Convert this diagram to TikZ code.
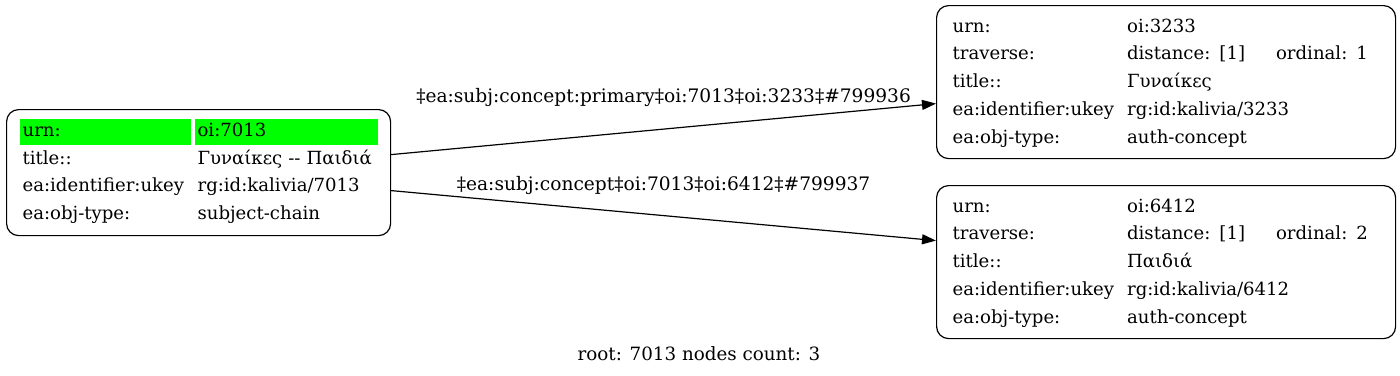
\documentclass[tikz,border=0pt]{standalone}
\usepackage{fontspec}
\setmainfont{DejaVu Serif}
\usepackage{xcolor}
\usetikzlibrary{arrows.meta}
\definecolor{rootgreen}{RGB}{0,255,0}
\setlength{\fboxsep}{0pt}
\newcommand{\rootcell}[2]{\hspace*{-3pt}\colorbox{rootgreen}{\makebox[#1][l]{\hspace*{3pt}\rule[-8pt]{0pt}{26pt}#2}}}

\begin{document}
\begin{tikzpicture}[x=1pt, y=-1pt,
  recbox/.style={draw, rounded corners=12pt, line width=1.2pt, inner xsep=16pt, inner ysep=0pt,
    anchor=north west, align=left, font=\fontsize{18.1}{27.7}\selectfont},
  link/.style={-{Triangle[length=14pt,width=10pt]}, line width=1.2pt},
  tag/.style={font=\fontsize{18.6}{22}\selectfont}
]
\useasboundingbox (0,0) rectangle (1400,375);

\node[recbox, text width=352pt, minimum height=126pt] (n7013) at (6,109) {\noindent
  \begin{tabular}{@{}p{175pt}@{}l@{}}
  \rootcell{171pt}{urn:} & \rootcell{183pt}{oi:7013}\\
  title:: & Γυναίκες -\kern0pt- Παιδιά\\
  ea:identifier:ukey & rg:id:kalivia/7013\\
  ea:obj-type: & subject-chain
  \end{tabular}};

\node[recbox, text width=427pt, minimum height=153pt] (n3233) at (936,5) {\noindent
  \begin{tabular}{@{}p{174.5pt}@{}l@{}}
  urn: & oi:3233\\
  traverse: & \makebox[149pt][l]{distance: [1]}ordinal: 1\\
  title:: & Γυναίκες\\
  ea:identifier:ukey & rg:id:kalivia/3233\\
  ea:obj-type: & auth-concept
  \end{tabular}};

\node[recbox, text width=427pt, minimum height=153pt] (n6412) at (936,185) {\noindent
  \begin{tabular}{@{}p{174.5pt}@{}l@{}}
  urn: & oi:6412\\
  traverse: & \makebox[149pt][l]{distance: [1]}ordinal: 2\\
  title:: & Παιδιά\\
  ea:identifier:ukey & rg:id:kalivia/6412\\
  ea:obj-type: & auth-concept
  \end{tabular}};

\draw[link] ([yshift=18pt]n7013.east) -- node[tag, yshift=32pt] {‡ea:subj:concept:primary‡oi:7013‡oi:3233‡\#799936} ([yshift=-21.5pt]n3233.west);
\draw[link] ([yshift=-18pt]n7013.east) -- node[tag, yshift=30pt] {‡ea:subj:concept‡oi:7013‡oi:6412‡\#799937} ([yshift=21.5pt]n6412.west);

\node[tag, font=\fontsize{18.3}{22}\selectfont] (caption) at (699,354) {root: 7013 nodes count: 3};
\end{tikzpicture}
\end{document}
